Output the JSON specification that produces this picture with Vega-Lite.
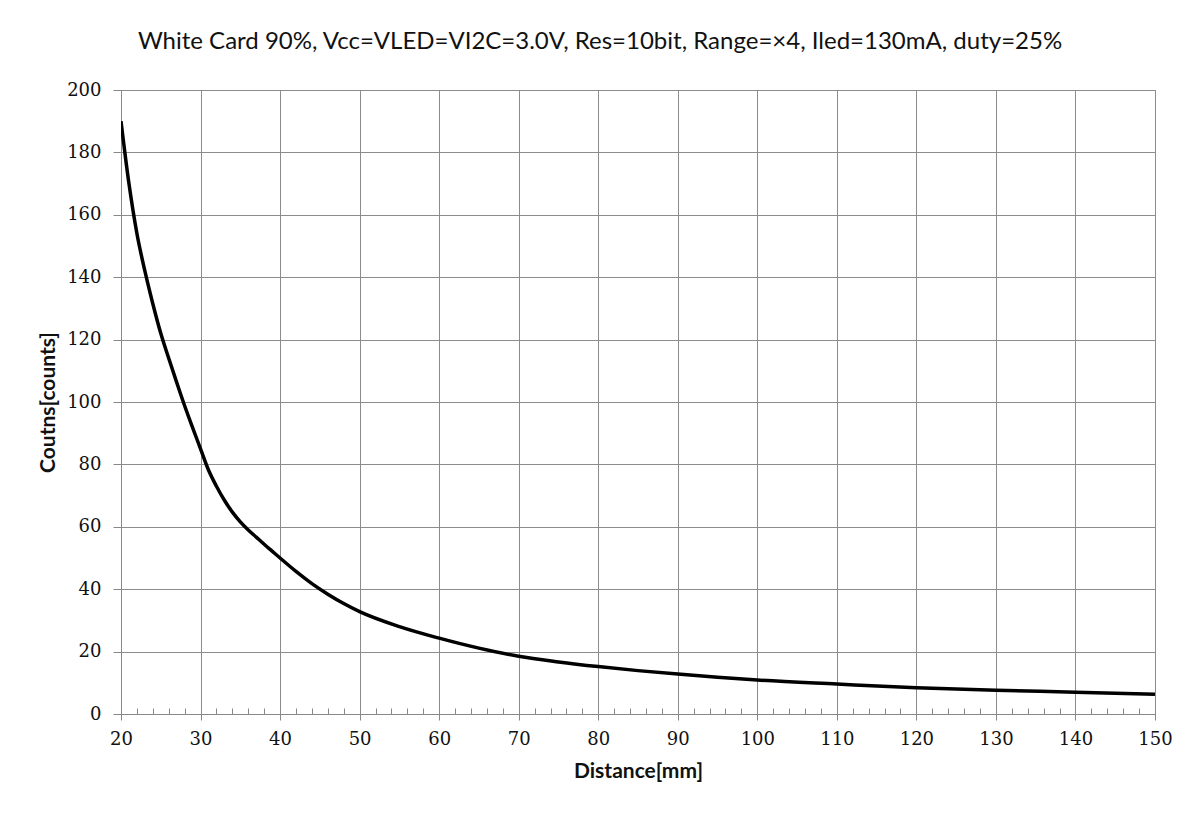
{
  "$schema": "https://vega.github.io/schema/vega-lite/v6.json",
  "width": 1034,
  "height": 624,
  "autosize": {"type": "none"},
  "padding": {"left": 121, "top": 90, "right": 39, "bottom": 107},
  "background": "white",
  "title": {
    "text": "White Card 90%, Vcc=VLED=VI2C=3.0V, Res=10bit, Range=×4, Iled=130mA, duty=25%",
    "font": "Lato",
    "fontSize": 24,
    "fontWeight": "normal",
    "color": "#111111",
    "anchor": "middle",
    "dx": -38,
    "offset": 27
  },
  "data": {
    "values": [
      {"distance": 20, "counts": 190},
      {"distance": 21, "counts": 170},
      {"distance": 22, "counts": 154},
      {"distance": 23, "counts": 142},
      {"distance": 24, "counts": 131.5},
      {"distance": 25, "counts": 122},
      {"distance": 26, "counts": 114},
      {"distance": 27, "counts": 106.3},
      {"distance": 28, "counts": 98.8},
      {"distance": 29, "counts": 91.8},
      {"distance": 30, "counts": 85},
      {"distance": 31, "counts": 78.2},
      {"distance": 32, "counts": 73},
      {"distance": 33, "counts": 68.5},
      {"distance": 34, "counts": 64.7},
      {"distance": 35, "counts": 61.6},
      {"distance": 36, "counts": 59},
      {"distance": 37, "counts": 56.7},
      {"distance": 38, "counts": 54.4},
      {"distance": 39, "counts": 52.2},
      {"distance": 40, "counts": 50},
      {"distance": 42, "counts": 45.7},
      {"distance": 44, "counts": 41.8},
      {"distance": 46, "counts": 38.4},
      {"distance": 48, "counts": 35.4},
      {"distance": 50, "counts": 32.8},
      {"distance": 55, "counts": 28},
      {"distance": 60, "counts": 24.3},
      {"distance": 65, "counts": 21.1},
      {"distance": 70, "counts": 18.5},
      {"distance": 75, "counts": 16.7},
      {"distance": 80, "counts": 15.2},
      {"distance": 85, "counts": 13.9},
      {"distance": 90, "counts": 12.8},
      {"distance": 95, "counts": 11.8},
      {"distance": 100, "counts": 10.9},
      {"distance": 110, "counts": 9.6},
      {"distance": 120, "counts": 8.4},
      {"distance": 130, "counts": 7.6},
      {"distance": 140, "counts": 7.0},
      {"distance": 150, "counts": 6.3}
    ]
  },
  "mark": {"type": "line", "color": "#000000", "strokeWidth": 3.5, "interpolate": "monotone", "clip": true},
  "encoding": {
    "x": {
      "field": "distance",
      "type": "quantitative",
      "scale": {"domain": [20, 150], "nice": false, "zero": false},
      "axis": {
        "title": "Distance[mm]",
        "titleFont": "Lato",
        "titleFontSize": 21,
        "titleFontWeight": "bold",
        "titleColor": "#111111",
        "titlePadding": 12,
        "values": [20,22,24,26,28,30,32,34,36,38,40,42,44,46,48,50,52,54,56,58,60,62,64,66,68,70,72,74,76,78,80,82,84,86,88,90,92,94,96,98,100,102,104,106,108,110,112,114,116,118,120,122,124,126,128,130,132,134,136,138,140,142,144,146,148,150],
        "labelExpr": "datum.value % 10 === 0 ? datum.label : ''",
        "labelFont": "DejaVu Serif",
        "labelFontSize": 18,
        "labelColor": "#111111",
        "labelPadding": 10,
        "labelFlush": false,
        "labelOverlap": false,
        "tickSize": {"condition": {"test": "datum.value % 10 === 0", "value": 6}, "value": -6},
        "tickColor": "#888888",
        "tickWidth": 1,
        "domainColor": "#888888",
        "grid": true,
        "gridColor": "#8c8c8c",
        "gridWidth": 1,
        "gridOpacity": {"condition": {"test": "datum.value % 10 === 0", "value": 1}, "value": 0}
      }
    },
    "y": {
      "field": "counts",
      "type": "quantitative",
      "scale": {"domain": [0, 200], "nice": false},
      "axis": {
        "title": "Coutns[counts]",
        "titleFont": "Lato",
        "titleFontSize": 21,
        "titleFontWeight": "bold",
        "titleColor": "#111111",
        "titlePadding": 8,
        "values": [0,20,40,60,80,100,120,140,160,180,200],
        "labelFont": "DejaVu Serif",
        "labelFontSize": 18,
        "labelColor": "#111111",
        "labelPadding": 12,
        "labelFlush": false,
        "tickSize": 8,
        "tickColor": "#888888",
        "domainColor": "#888888",
        "grid": true,
        "gridColor": "#8c8c8c",
        "gridWidth": 1
      }
    }
  },
  "config": {
    "view": {"stroke": "#8c8c8c", "strokeWidth": 1}
  }
}
